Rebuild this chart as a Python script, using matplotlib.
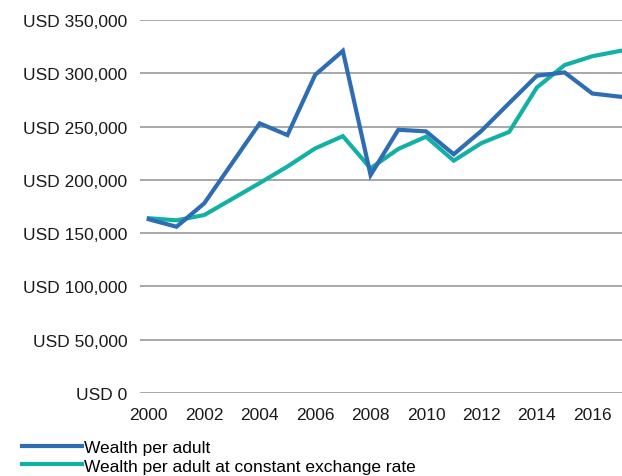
import matplotlib
matplotlib.use("Agg")
import matplotlib.pyplot as plt
from matplotlib.ticker import FuncFormatter

years = list(range(2000, 2018))
wealth_per_adult = [163000, 156000, 178000, 215500, 253000, 242000, 298500, 321000,
                    204500, 247000, 245500, 224000, 246000, 272000, 297700, 300800,
                    281000, 278000]
wealth_constant_fx = [164000, 162000, 167000, 182000, 197000, 212500, 229500, 241000,
                      210800, 229000, 240500, 218000, 234500, 245000, 286700, 307700,
                      316000, 321000]
series_labels = ["Wealth per adult", "Wealth per adult at constant exchange rate"]
y_ticks = [0, 50000, 100000, 150000, 200000, 250000, 300000, 350000]
x_ticks = list(range(2000, 2017, 2))

plt.rcParams["font.family"] = ["Liberation Sans", "DejaVu Sans"]

fig = plt.figure(figsize=(6.22, 4.77), dpi=100)
ax = fig.add_axes([0.225, 0.174, 0.775, 0.782])

blue = "#2e6db4"
teal = "#13b1a5"

for y in y_ticks:
    ax.axhline(y, color="#8f8f8f", lw=1.1, zorder=1)

l1, = ax.plot(years, wealth_per_adult, color=blue, lw=3, zorder=3,
              solid_joinstyle="miter")
l2, = ax.plot(years, wealth_constant_fx, color=teal, lw=3, zorder=2,
              solid_joinstyle="miter")

ax.set_xlim(1999.68, 2017.07)
ax.set_ylim(0, 350000)
ax.set_yticks(y_ticks)
ax.set_xticks(x_ticks)
ax.yaxis.set_major_formatter(FuncFormatter(lambda v, p: "USD {:,.0f}".format(v)))
ax.tick_params(length=0, labelsize=12.5, colors="#1a1a1a", pad=9)
ax.tick_params(axis="x", pad=10)
for s in ax.spines.values():
    s.set_visible(False)
for ln in (l1, l2):
    ln.set_clip_on(False)

fig.legend([l1, l2], series_labels, loc="upper left",
           bbox_to_anchor=(0.035, 0.076), frameon=False, fontsize=12.5,
           handlelength=3.45, handletextpad=0.12, labelspacing=0.2,
           borderpad=0, borderaxespad=0)

fig.savefig("out.png", dpi=100)
